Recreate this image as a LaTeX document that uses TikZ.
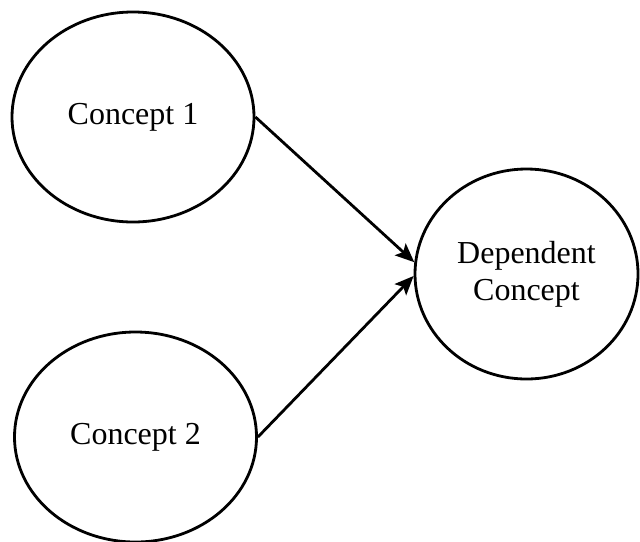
\documentclass[tikz,border=0pt]{standalone}
\usepackage{fontspec}
\setmainfont{Liberation Serif}
\usetikzlibrary{arrows.meta,positioning,shapes.geometric}

\begin{document}
\begin{tikzpicture}[
  x=0.5pt,y=-0.5pt,
  concept/.style={draw,ellipse,line width=1.4pt,inner sep=0pt,minimum width=121pt,
    minimum height=105pt,align=center,font=\fontsize{16}{18.5}\selectfont},
  arr/.style={-{Stealth[length=9.5pt,width=8pt,inset=2pt]},line width=1.4pt}
]
\useasboundingbox (0,0) rectangle (640,541);
\node[concept] (c1) at (133,117) {\raisebox{-2pt}{Concept 1}};
\node[concept] (c2) at (135.5,437) {\raisebox{-2pt}{Concept 2}};
\node[concept,minimum width=111.5pt] (dep) at (526.5,274) {Dependent\\Concept};

\draw[arr] (c1.east) -- (dep.174);
\draw[arr] (c2.east) -- (dep.181);
\end{tikzpicture}
\end{document}
